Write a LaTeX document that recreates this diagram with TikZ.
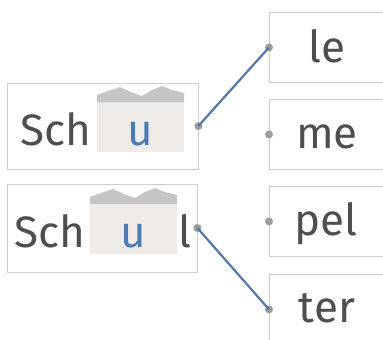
\documentclass[tikz,border=0pt]{standalone}
\usepackage{fontspec}
\setmainfont{Fira Sans}
\usepackage{tikz}
\definecolor{txtgray}{HTML}{4E4E4E}
\definecolor{boxgray}{HTML}{CFCDCB}
\definecolor{dotgray}{HTML}{9C9C9C}
\definecolor{ublue}{HTML}{4A7CB2}
\definecolor{linkblue}{HTML}{5478AA}
\definecolor{patchlight}{HTML}{EEEBE9}
\definecolor{patchdark}{HTML}{C7C5C3}
\tikzset{
  wordbox/.style={draw=boxgray, line width=0.8pt, rectangle, inner sep=0pt},
  endbox/.style={wordbox, anchor=north west, minimum width=130pt, minimum height=70pt},
  dot/.style={circle, fill=dotgray, inner sep=0pt, minimum size=8pt},
  word/.style={font=\fontsize{44}{50}\selectfont, text=txtgray, inner sep=0pt, anchor=base west},
  link/.style={draw=linkblue, line width=2.2pt},
}

\begin{document}
\begin{tikzpicture}[x=1pt,y=-1pt]
            \useasboundingbox (0,0) rectangle (383,340);
            \clip (0,0) rectangle (383,340);
            \fill[white] (0,0) rectangle (383,340);

            % left boxes
            \node[wordbox, minimum width=191pt, minimum height=86pt] (schu) at (102.5,126) {};
            \node[wordbox, minimum width=190pt, minimum height=88pt] (schul) at (102,228) {};

            % covered gaps
            \foreach \dx/\dy in {0/0, -7/102} {
                \begin{scope}[shift={(\dx,\dy)}]
                    \fill[patchlight] (97,102) rectangle (184,152);
                    \fill[patchdark] (97,102) -- (97,95) -- (108,91) -- (120,87) -- (131,92)
                        -- (142,96) -- (152,90) -- (162,86) -- (172,90) -- (184,93) -- (184,102) -- cycle;
                \end{scope}
            }

            \node[word] (sch1) at (20,145) {Sch};
            \node[word, text=ublue] (u1) at (127,145) {u};
            \node[word] (sch2) at (14,247) {Sch};
            \node[word, text=ublue] (u2) at (120,247) {u};
            \node[word] (l2) at (178,247) {l};

            % right boxes
            \node[endbox] (le) at (269,12) {};
            \node[endbox] (me) at (269,99) {};
            \node[endbox] (pel) at (269,186) {};
            \node[endbox] (ter) at (269,274) {};
            \node[word, anchor=base] (tle) at (327,62) {le};
            \node[word, anchor=base] (tme) at (327,148) {me};
            \node[word, anchor=base] (tpel) at (326,235) {pel};
            \node[word, anchor=base] (tter) at (327,322) {ter};

            % dots
            \node[dot] (d1) at (schu.east) {};
            \node[dot] (d2) at (schul.east) {};
            \node[dot] (dle) at (le.west) {};
            \node[dot] (dme) at (me.west) {};
            \node[dot] (dpel) at (pel.west) {};
            \node[dot] (dter) at (ter.west) {};

            \draw[link] (d1.center) -- (dle.center);
            \draw[link] (d2.center) -- (dter.center);
        \end{tikzpicture}
\end{document}
